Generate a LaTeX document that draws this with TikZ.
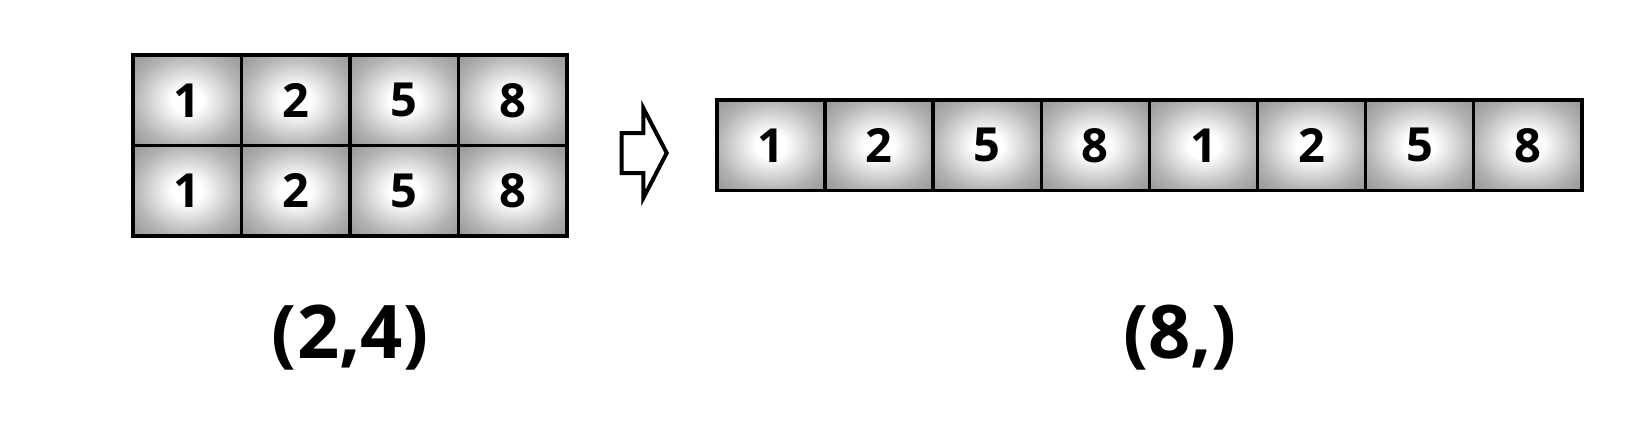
\documentclass[tikz,border=0pt]{standalone}
\usepackage{fontspec}
\setmainfont{Open Sans}
\usetikzlibrary{calc}
\pgfdeclareradialshading{cellshade}{\pgfpoint{0bp}{0bp}}{color(0bp)=(white); color(7bp)=(white); color(25bp)=(black!30); color(36bp)=(black!42); color(50bp)=(black!42)}
\begin{document}
\begin{tikzpicture}[
			x=1pt, y=-1pt,
			cell/.style={rectangle, draw, line width=3.5pt, shade, shading=cellshade, inner sep=0pt,
				minimum width=108.5pt, minimum height=90.5pt, font=\fontsize{47}{47}\selectfont\bfseries},
			dim label/.style={anchor=base, font=\fontsize{74}{74}\selectfont\bfseries},
			]
			\useasboundingbox (0,0) rectangle (1634,426);
			% (2,4) array
			\foreach \v [count=\i] in {1,2,5,8} {
				\node [cell] (top\i) at ({187.25+108.5*(\i-1)},100.25) {\v};
				\node [cell] (bot\i) at ({187.25+108.5*(\i-1)},190.75) {\v};
			}
			% flattened array
			\foreach \v [count=\i] in {1,2,5,8,1,2,5,8}
				\node [cell, minimum width=108.1pt] (flat\i) at ({771.05+108.1*(\i-1)},145.25) {\v};
			\draw [line width=4pt, line join=miter] (621.7,133) -- (643.3,133) -- (643.3,108) -- (666.7,153)
				-- (643.3,198) -- (643.3,173) -- (621.7,173) -- cycle;
			\node [dim label] (lhsdim) at (350,358) {(2,4)};
			\node [dim label] (rhsdim) at (1180,358) {(8,)};
		\end{tikzpicture}
\end{document}
